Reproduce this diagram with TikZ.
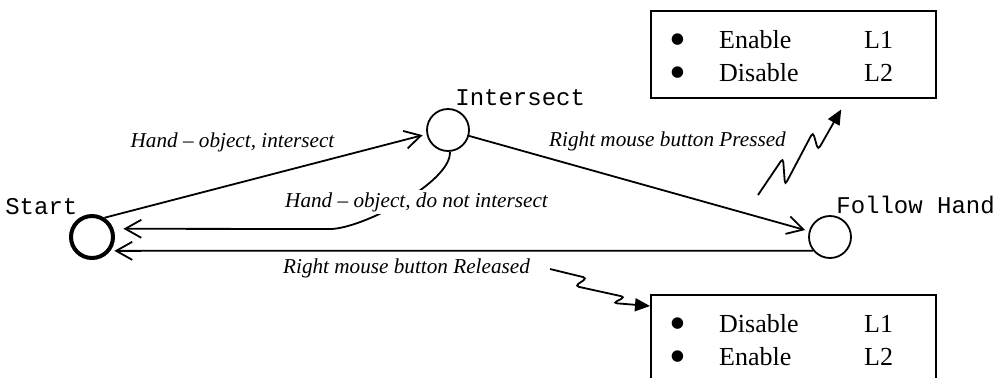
\documentclass[tikz,border=0pt]{standalone}
\usepackage{fontspec}
\setmainfont{Liberation Serif}
\setmonofont{Liberation Mono}
\usetikzlibrary{automata}
\usetikzlibrary{positioning}
\usetikzlibrary{arrows.meta}
\tikzset{x=0.5pt,y=-0.5pt,
    every state/.style={
        line width=0.9pt,
        minimum size=21pt,
        inner sep=0pt},
    link/.style={
        ->,>={Straight Barb[length=8pt,width=9pt]},
        line width=0.9pt},
    every edge/.style={
        draw,
        link,
        shorten >=2pt},
    statename/.style={font=\ttfamily\fontsize{12}{14}\selectfont,inner sep=0pt},
    trans/.style={font=\itshape\fontsize{10.6}{13}\selectfont,inner sep=1pt,anchor=base},
    actions/.style={draw,line width=1.2pt,anchor=north west,inner sep=0pt,
        text width=142.5pt,text height=18.75pt,text depth=24.75pt,
        font=\fontsize{13}{16.5}\selectfont},
    signal/.style={line width=0.9pt,rounded corners=2pt,
        -{Triangle[length=7.5pt,width=6.5pt]}}}
\newcommand{\bigdot}{\raisebox{-3.4pt}[0pt][0pt]{\scalebox{1.85}{\textbullet}}}
\newcommand{\lamps}[2]{\begin{tabular}[t]{@{\hspace{9pt}}p{25pt}@{}p{72.5pt}@{}l@{}}
    \bigdot & #1 & L1\\
    \bigdot & #2 & L2
  \end{tabular}}

\begin{document}
\begin{tikzpicture}
        \path[use as bounding box,clip] (0,0) rectangle (996,377);

        \node[state,line width=2pt,label={[statename,xshift=1pt,yshift=3pt]above left:Start}] (start) at (92,237) {};
        \node[state,label={[statename,xshift=-4.25pt,yshift=4.25pt]above right:Intersect}] (inter) at (448,130) {};
        \node[state,label={[statename,xshift=-4.75pt,yshift=3.5pt]above right:Follow Hand}] (follow) at (830,237) {};

        \draw (start.57) edge (inter.191);
        \draw (inter) edge (follow);
        \draw (follow.219.7) edge (start.-37.5);
        \draw[link,shorten >=5pt] (inter.-85) .. controls +(2,30) and +(32,0) .. (330,229) -- (start.21);

        \node[trans] (hoi) at (232.5,147) {Hand – object, intersect};
        \node[trans,fill=white] (honi) at (416.5,207) {Hand – object, do not intersect};
        \node[trans] (rmbp) at (667.5,146) {Right mouse button Pressed};
        \node[trans] (rmbr) at (406.5,273) {Right mouse button Released};

        \node[actions] (pressbox) at (650,10) {\lamps{Enable}{Disable}};
        \node[actions] (relbox) at (650,294) {\lamps{Disable}{Enable}};

        \coordinate (presssig) at (758,195);
        \draw[signal] (presssig) -- ++(25,-37) -- ++(2,27) -- ++(28,-53) -- ++(5,18)
            -- ([xshift=23.75pt,yshift=-5pt]pressbox.south);
        \coordinate (relsig) at (550,269);
        \draw[signal] (relsig) -- ++(37,9) -- ++(-12,8) -- ++(50,11) -- ++(-12,6)
            -- ([yshift=-6pt]relbox.north west);
    \end{tikzpicture}
\end{document}
